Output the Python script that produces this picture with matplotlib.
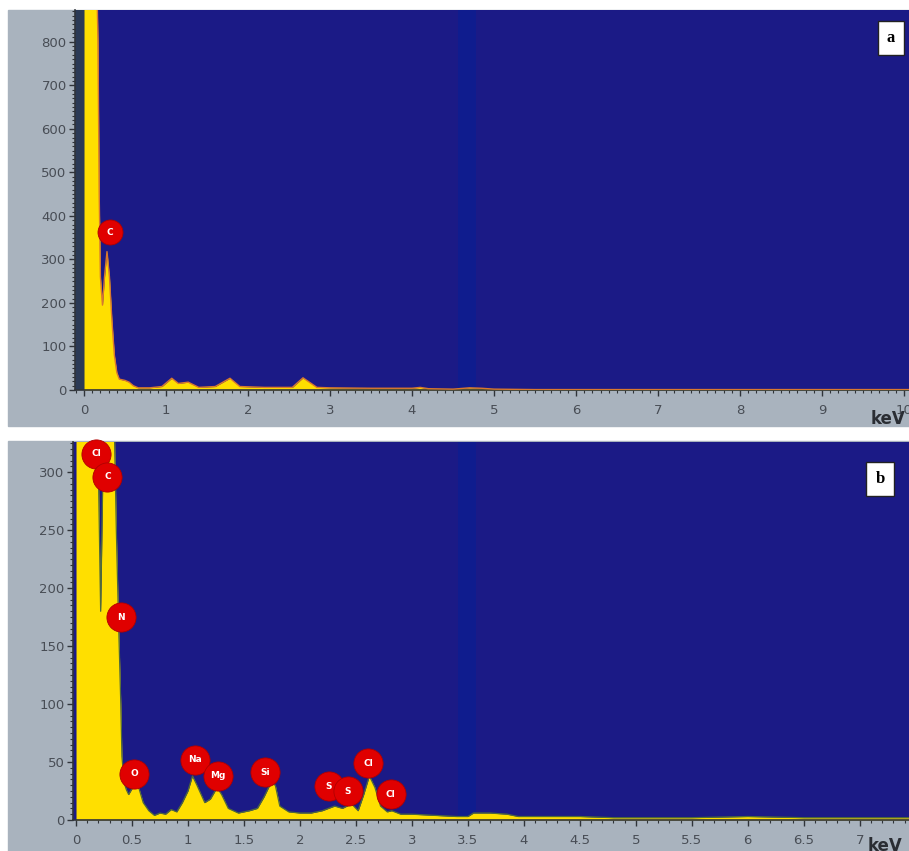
import matplotlib
matplotlib.use("Agg")
import matplotlib.pyplot as plt
from matplotlib.patches import Rectangle
from matplotlib.ticker import MultipleLocator

# ---- Spectrum (a): energy in keV, counts ----
energy_a = [0.00, 0.15, 0.17, 0.185, 0.20, 0.225, 0.25, 0.28, 0.31, 0.34, 0.37, 0.40,
            0.43, 0.50, 0.55, 0.60, 0.66, 0.80, 0.95, 1.07, 1.15, 1.27, 1.40, 1.60,
            1.78, 1.90, 2.20, 2.54, 2.67, 2.84, 3.00, 3.50, 4.00, 4.10, 4.20, 4.50,
            4.70, 4.85, 5.00, 5.50, 10.10]
counts_a = [1000, 1000, 800, 450, 260, 195, 260, 318, 260, 160, 80, 40,
            25, 22, 18, 10, 5, 5, 8, 27, 15, 18, 6, 8,
            27, 8, 6, 6, 28, 6, 5, 4, 4, 6, 3, 2,
            5, 4, 2, 1, 1]

# ---- Spectrum (b) ----
energy_b = [0.00, 0.18, 0.20, 0.22, 0.24, 0.26, 0.33, 0.36, 0.38, 0.40, 0.41, 0.43,
            0.45, 0.47, 0.50, 0.53, 0.56, 0.60, 0.65, 0.70, 0.75, 0.80, 0.85, 0.90,
            0.95, 1.00, 1.04, 1.08, 1.15, 1.20, 1.26, 1.30, 1.36, 1.45, 1.55, 1.62,
            1.68, 1.74, 1.78, 1.82, 1.90, 2.00, 2.10, 2.20, 2.31, 2.38, 2.46, 2.52,
            2.57, 2.62, 2.67, 2.72, 2.78, 2.82, 2.90, 3.00, 3.20, 3.40, 3.50, 3.55,
            3.70, 3.85, 3.95, 4.20, 4.50, 4.80, 5.00, 5.50, 6.00, 6.50, 7.00, 7.50]
counts_b = [400, 400, 300, 180, 300, 400, 400, 250, 170, 100, 55, 32,
            26, 22, 27, 30, 28, 15, 8, 4, 6, 5, 9, 7,
            15, 25, 38, 30, 15, 18, 28, 22, 10, 6, 8, 10,
            20, 32, 30, 12, 7, 6, 6, 8, 12, 10, 14, 8,
            22, 38, 28, 12, 7, 8, 5, 5, 4, 3, 3, 6,
            6, 5, 3, 3, 3, 2, 2, 2, 3, 2, 2, 2]

# ---- Element markers ----
labels_a = ["C"]
label_x_a = [0.32]
label_y_a = [362]

labels_b = ["Cl", "C", "N", "O", "Na", "Mg", "Si", "S", "S", "Cl", "Cl"]
label_x_b = [0.18, 0.28, 0.40, 0.52, 1.06, 1.27, 1.69, 2.26, 2.43, 2.61, 2.81]
label_y_b = [316, 296, 175, 40, 52, 38, 41, 29, 25, 49, 22]

xticks_a = list(range(0, 11))
yticks_a = [0, 100, 200, 300, 400, 500, 600, 700, 800]
xticks_b = [0, 0.5, 1, 1.5, 2, 2.5, 3, 3.5, 4, 4.5, 5, 5.5, 6, 6.5, 7]
yticks_b = [0, 50, 100, 150, 200, 250, 300]

W, H = 909, 851
BG = "#1b1a86"
BAND = "#0f1c8e"
PANEL = "#a9b3be"
YELLOW = "#ffdf00"
RED = "#e00000"
TICKC = "#484d55"

fig = plt.figure(figsize=(W / 100, H / 100), dpi=100)
fig.patch.set_facecolor("white")


def frac_x(px):
    return px / W


def frac_y(py):
    return 1 - py / H


# grey panel backgrounds (drawn beneath the axes)
fig.patches.append(Rectangle((frac_x(8), frac_y(426)), 1, (426 - 10) / H,
                             transform=fig.transFigure, color=PANEL, zorder=-5))
fig.patches.append(Rectangle((frac_x(8), 0), 1, frac_y(441),
                             transform=fig.transFigure, color=PANEL, zorder=-5))


def style_axes(ax):
    ax.set_zorder(2)
    ax.set_facecolor(BG)
    for s in ["top", "right"]:
        ax.spines[s].set_visible(False)
    for s in ["left", "bottom"]:
        ax.spines[s].set_color("#30343a")
        ax.spines[s].set_linewidth(1.2)
    ax.tick_params(axis="both", which="major", direction="out", length=4,
                   width=1, color="#30343a", labelcolor=TICKC, labelsize=9.5)
    ax.tick_params(axis="both", which="minor", direction="out", length=2.2,
                   width=0.8, color="#30343a")
    ax.tick_params(axis="x", pad=6)
    ax.tick_params(axis="y", pad=2)


def draw_labels(ax, names, xs, ys, size):
    for name, x, y in zip(names, xs, ys):
        ax.plot(x, y, "o", ms=size, color=RED, mec="#b00000", mew=0.6, zorder=5,
                clip_on=False)
        ax.text(x, y, name, color="white", fontsize=6.5, fontweight="bold",
                ha="center", va="center", zorder=6)


# ---- panel a ----
ax_a = fig.add_axes([frac_x(75), frac_y(390), (W - 75) / W, (390 - 10) / H])
style_axes(ax_a)
ax_a.set_xlim(-0.11, 10.06)
ax_a.set_ylim(0, 873)
ax_a.axvspan(-0.11, 0, color="#2b3a56", zorder=1)
ax_a.axvspan(4.56, 4.78, color=BAND, zorder=0.5, lw=0)
ax_a.fill_between(energy_a, counts_a, 0, color=YELLOW, zorder=2, lw=0)
ax_a.plot(energy_a, counts_a, color="#d9782e", lw=1.0, zorder=3)
ax_a.set_xticks(xticks_a)
ax_a.set_yticks(yticks_a)
ax_a.xaxis.set_minor_locator(MultipleLocator(0.1))
ax_a.yaxis.set_minor_locator(MultipleLocator(10))
draw_labels(ax_a, labels_a, label_x_a, label_y_a, 18)

# ---- panel b ----
ax_b = fig.add_axes([frac_x(73), frac_y(820), (W - 73) / W, (820 - 442) / H])
style_axes(ax_b)
ax_b.set_xlim(-0.027, 7.44)
ax_b.set_ylim(0, 326)
ax_b.axvspan(3.41, 3.57, color=BAND, zorder=0.5, lw=0)
ax_b.fill_between(energy_b, counts_b, 0, color=YELLOW, zorder=2, lw=0)
ax_b.plot(energy_b, counts_b, color="#4f6a3a", lw=0.9, zorder=3)
ax_b.set_xticks(xticks_b)
ax_b.set_xticklabels([f"{t:g}" for t in xticks_b])
ax_b.set_yticks(yticks_b)
ax_b.xaxis.set_minor_locator(MultipleLocator(0.1))
ax_b.yaxis.set_minor_locator(MultipleLocator(5))
draw_labels(ax_b, labels_b, label_x_b, label_y_b, 21)

# unit labels
fig.text(frac_x(871), frac_y(419), "keV", fontsize=12, fontweight="bold",
         color="#2a2d33", ha="left", va="center", zorder=5)
fig.text(frac_x(868), frac_y(846), "keV", fontsize=12, fontweight="bold",
         color="#2a2d33", ha="left", va="center", zorder=5)

# panel letters
box = dict(boxstyle="square,pad=0.55", facecolor="white", edgecolor="#222222", lw=1)
fig.text(frac_x(891), frac_y(38), "a", fontsize=12, fontweight="bold",
         family="Liberation Serif", ha="center", va="center", bbox=box, zorder=10)
fig.text(frac_x(880), frac_y(479), "b", fontsize=12, fontweight="bold",
         family="Liberation Serif", ha="center", va="center", bbox=box, zorder=10)

fig.savefig("out.png", dpi=100, facecolor=fig.get_facecolor())
